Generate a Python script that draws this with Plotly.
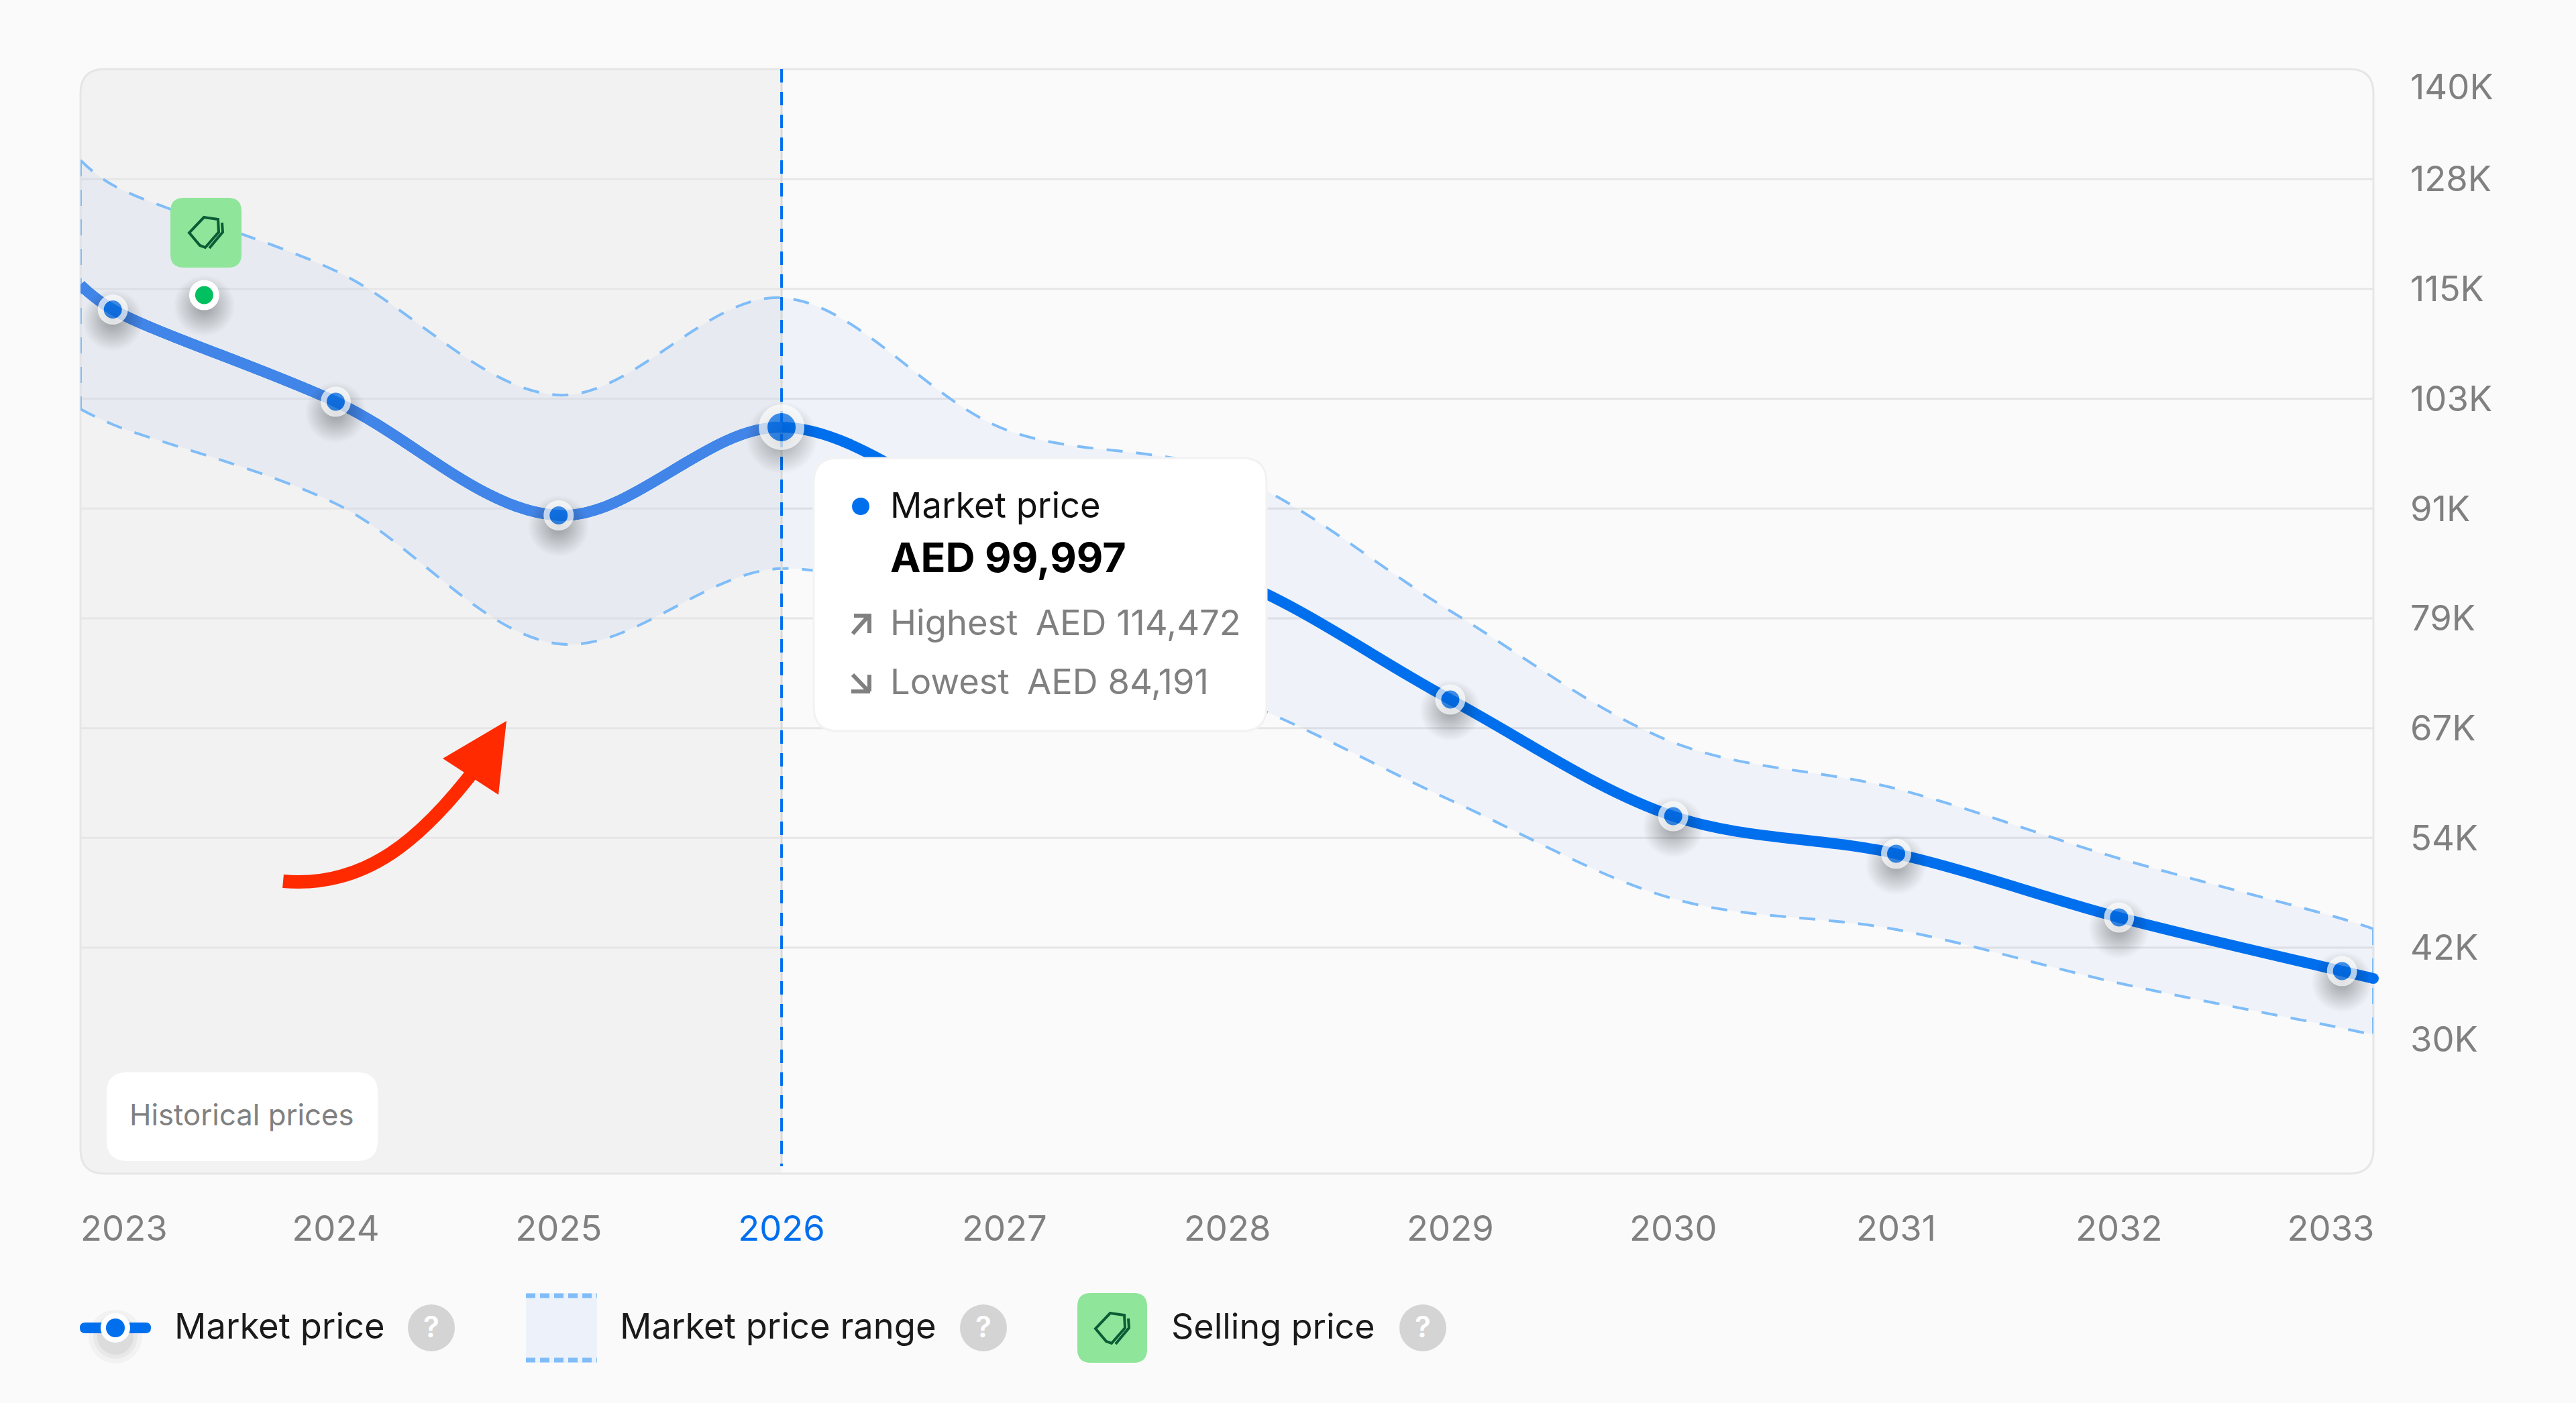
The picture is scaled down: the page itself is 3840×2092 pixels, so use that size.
import plotly.graph_objects as go

# ---------- data ----------
YEARS = [2023, 2024, 2025, 2026, 2027, 2028, 2029, 2030, 2031, 2032, 2033]
MARKET_AT_YEARS = [113160, 102847, 90135, 99997, 89272, 83272, 69547, 56497, 52297, 45172, 39172]
EDGE_LEFT = 2022.855
EDGE_RIGHT = 2033.141
MARKET_EDGES = [115897, 38347]
HIGH_AT_YEARS = [127072, 117472, 103597, 114472, 99772, 94897, 79447, 64747, 59572, 51772, 45022]
HIGH_EDGES = [129847, 43897]
LOW_AT_YEARS = [100297, 91447, 75772, 84191, 77047, 69922, 58297, 47272, 43822, 37822, 32797]
LOW_EDGES = [102022, 32047]
SELL_X = [2023.41]
SELL_Y = [114772]
GRID_VALUES = [127750, 115470, 103190, 90910, 78630, 66350, 54070, 41790]
Y_LABEL_VALUES = [138022] + GRID_VALUES + [31522]
Y_LABELS = ["140K", "128K", "115K", "103K", "91K", "79K", "67K", "54K", "42K", "30K"]
X_LABEL_POS = [2023.05, 2024, 2025, 2026, 2027, 2028, 2029, 2030, 2031, 2032, 2032.95]
Y_RANGE = [16522, 140047]
X_RANGE = [EDGE_LEFT, EDGE_RIGHT]
LINE_X = [EDGE_LEFT] + YEARS + [EDGE_RIGHT]
MARKET_LINE = [MARKET_EDGES[0]] + MARKET_AT_YEARS + [MARKET_EDGES[1]]
HIGH_LINE = [HIGH_EDGES[0]] + HIGH_AT_YEARS + [HIGH_EDGES[1]]
LOW_LINE = [LOW_EDGES[0]] + LOW_AT_YEARS + [LOW_EDGES[1]]

# ---------- style ----------
BLUE = "#006FEE"
BLUE_HIST = "#4285E8"
DASH_BLUE = "#80BDF8"
GREY = "#808080"
GREEN = "#8FE59A"
FONT = "Inter"
L, R, T, B = 120, 3538, 103, 1750
W, H = 3840, 2092
CUT = 1165


def fx(p):
    return (p - L) / (R - L)


def fy(p):
    return 1 - (p - T) / (B - T)


def pt(x, y):
    return f"{fx(x):.5f},{fy(y):.5f}"


def rrect(x0, y0, x1, y1, r, left=True, right=True):
    rl = r if left else 0
    rr = r if right else 0
    return (f"M {pt(x0 + rl, y0)} L {pt(x1 - rr, y0)} Q {pt(x1, y0)} {pt(x1, y0 + rr)} "
            f"L {pt(x1, y1 - rr)} Q {pt(x1, y1)} {pt(x1 - rr, y1)} "
            f"L {pt(x0 + rl, y1)} Q {pt(x0, y1)} {pt(x0, y1 - rl)} "
            f"L {pt(x0, y0 + rl)} Q {pt(x0, y0)} {pt(x0 + rl, y0)} Z")


shapes = []


def path(d, fill=None, line=None, width=0, layer="above", dash=None):
    s = dict(type="path", xref="paper", yref="paper", path=d, layer=layer,
             line=dict(width=width, color=line or "rgba(0,0,0,0)"))
    if dash:
        s["line"]["dash"] = dash
    if fill:
        s["fillcolor"] = fill
    shapes.append(s)


def circle(cx, cy, r, fill, layer="above"):
    shapes.append(dict(type="circle", xref="paper", yref="paper", layer=layer,
                       x0=fx(cx - r), x1=fx(cx + r), y0=fy(cy + r), y1=fy(cy - r),
                       fillcolor=fill, line=dict(width=0)))


annos = []


def text(x, y, s, size=52, color="#1A1A1A", anchor="left", weight=400):
    annos.append(dict(xref="paper", yref="paper", x=fx(x), y=fy(y), text=s, showarrow=False,
                      xanchor=anchor, yanchor="middle", xshift=0,
                      font=dict(family=FONT, size=size, color=color, weight=weight)))


def tag_icon(cx, cy):
    a = [(-3, -22), (18, -19), (19, 0), (-1, 23), (-9, 20), (-25, 1)]
    b = [(24, -14), (25, 0), (5, 24)]
    d = "M " + " L ".join(pt(cx + u, cy + v) for u, v in a) + " Z"
    path(d, line="#0D5C36", width=4)
    d = "M " + " L ".join(pt(cx + u, cy + v) for u, v in b)
    path(d, line="#0D5C36", width=4)


# panel: history shading, border, grid
path(rrect(L, T, CUT, B, 36, right=False), fill="#F2F2F2", layer="below")
path(rrect(L, T, R, B, 36), line="#E6E6E6", width=3, layer="below")
for g in GRID_VALUES:
    shapes.append(dict(type="line", xref="paper", yref="y", x0=0, x1=1, y0=g, y1=g, layer="below",
                       line=dict(color="#E6E6E6", width=3)))

# badge above selling point
path(rrect(254, 295, 360, 399, 20), fill=GREEN)
tag_icon(307, 346)

# red arrow
path(f"M {pt(422, 1314)} C {pt(545, 1325)} {pt(630, 1250)} {pt(712, 1142)}", line="#FF2A00", width=20)
path(f"M {pt(755, 1075)} L {pt(660, 1131)} L {pt(743, 1185)} Z", fill="#FF2A00")

# historical prices chip
path(rrect(159, 1599, 563, 1731, 30), fill="#FFFFFF")
text(191, 1662, "Historical prices", size=43.7, color=GREY)

# tooltip
path(rrect(1213, 683, 1888, 1090, 36), fill="#FFFFFF", line="#F2F2F2", width=3)
circle(1283, 755, 13, BLUE)
text(1325, 753, "Market price", size=52.5, color="#111111")
text(1325, 831, "AED 99,997", size=61, color="#000000", weight=700)
text(1325, 928, "Highest\u2002AED 114,472", size=52.5, color=GREY)
text(1325, 1016, "Lowest\u2002AED 84,191", size=52.5, color=GREY)
path(f"M {pt(1271, 945)} L {pt(1295, 918)} M {pt(1273, 918)} L {pt(1296, 918)} L {pt(1296, 944)}",
     line=GREY, width=6)
path(f"M {pt(1271, 1006)} L {pt(1295, 1031)} M {pt(1269, 1031)} L {pt(1297, 1031)} M {pt(1296, 1031)} L {pt(1296, 1006)}",
     line=GREY, width=6)

# legend
for rad, a in [(40, 0.03), (33, 0.04), (27, 0.05)]:
    circle(172, 1993, rad, f"rgba(0,0,0,{a})")
path(rrect(119, 1972, 225, 1988, 8), fill=BLUE)
circle(172, 1980, 22, "#FFFFFF")
circle(172, 1980, 14, BLUE)
text(258, 1977, "Market price", size=52.5)
circle(643, 1980, 35, "#D4D4D4")
text(643, 1978, "?", size=44, color="#FFFFFF", anchor="center", weight=600)

path(rrect(784, 1928, 890, 2032, 0), fill="#EDF2FA")
for yy in (1932, 2028):
    path(f"M {pt(784, yy)} L {pt(890, yy)}", line=DASH_BLUE, width=7, dash="14px,7px")
text(922, 1977, "Market price range", size=52.5)
circle(1466, 1980, 35, "#D4D4D4")
text(1466, 1978, "?", size=44, color="#FFFFFF", anchor="center", weight=600)

path(rrect(1606, 1928, 1710, 2032, 20), fill=GREEN)
tag_icon(1658, 1980)
text(1744, 1977, "Selling price", size=52)
circle(2121, 1980, 35, "#D4D4D4")
text(2121, 1978, "?", size=44, color="#FFFFFF", anchor="center", weight=600)

# ---------- traces ----------
fig = go.Figure()
dashed = dict(color=DASH_BLUE, width=4, dash="24px,20px", shape="spline", smoothing=1)
fig.add_trace(go.Scatter(x=LINE_X, y=LOW_LINE, mode="lines", cliponaxis=False, line=dashed))
fig.add_trace(go.Scatter(x=LINE_X, y=HIGH_LINE, mode="lines", fill="tonexty", cliponaxis=False,
                         fillcolor="rgba(0,96,230,0.045)", line=dashed))
# closing edges of the band
for xe, hi, lo in ((EDGE_LEFT, HIGH_EDGES[0], LOW_EDGES[0]), (EDGE_RIGHT, HIGH_EDGES[1], LOW_EDGES[1])):
    fig.add_trace(go.Scatter(x=[xe, xe], y=[hi, lo], mode="lines", cliponaxis=False,
                             line=dict(color=DASH_BLUE, width=4, dash="24px,20px")))
# cursor line
fig.add_trace(go.Scatter(x=[2026, 2026], y=[Y_RANGE[1], 17347], mode="lines",
                         line=dict(color="#D9D9D9", width=3)))
fig.add_trace(go.Scatter(x=[2026, 2026], y=[Y_RANGE[1], 17347], mode="lines",
                         line=dict(color=BLUE, width=4, dash="20px,14px")))
# market line: full curve, with the same curve drawn lighter on a sub-plot that ends at 2026
fig.add_trace(go.Scatter(x=LINE_X, y=MARKET_LINE, mode="lines", cliponaxis=False,
                         line=dict(color=BLUE, width=16, shape="spline", smoothing=1)))
fig.add_trace(go.Scatter(x=LINE_X, y=MARKET_LINE, mode="lines", xaxis="x2", yaxis="y",
                         line=dict(color=BLUE_HIST, width=16, shape="spline", smoothing=1)))
# soft shadows beneath markers
shadow = dict(color="rgba(0,0,0,0)", gradient=dict(type="radial", color="rgba(0,0,0,0.5)"), line=dict(width=0))
sizes = [108 if y == 2026 else 92 for y in YEARS]
fig.add_trace(go.Scatter(x=YEARS + SELL_X, y=[v - 1200 for v in MARKET_AT_YEARS + SELL_Y], mode="markers",
                         xaxis="x3", yaxis="y", cliponaxis=False,
                         marker=dict(size=sizes + [92], **shadow)))
# markers
fig.add_trace(go.Scatter(x=[EDGE_RIGHT], y=[MARKET_EDGES[1]], mode="markers", xaxis="x3", yaxis="y", cliponaxis=False,
                         marker=dict(size=16, color=BLUE, line=dict(width=0))))
fig.add_trace(go.Scatter(x=YEARS, y=MARKET_AT_YEARS, mode="markers", xaxis="x3", yaxis="y", cliponaxis=False,
                         marker=dict(size=[55 if y == 2026 else 36 for y in YEARS],
                                     color=BLUE,
                                     line=dict(color="#FFFFFF", width=[13 if y == 2026 else 9 for y in YEARS]))))
fig.add_trace(go.Scatter(x=SELL_X, y=SELL_Y, mode="markers", xaxis="x3", yaxis="y", cliponaxis=False,
                         marker=dict(size=36, color="#00C060", line=dict(color="#FFFFFF", width=9))))

tick_text = [f'<span style="color:{BLUE}">{y}</span>' if y == 2026 else str(y) for y in YEARS]

fig.update_layout(
    width=W, height=H, autosize=False,
    margin=dict(l=L, r=W - R, t=T, b=H - B, pad=0),
    paper_bgcolor="#FAFAFA", plot_bgcolor="rgba(0,0,0,0)",
    showlegend=False, hovermode=False,
    font=dict(family=FONT, size=52.5, color=GREY),
    shapes=shapes, annotations=annos,
    xaxis=dict(range=X_RANGE, tickmode="array", tickvals=X_LABEL_POS, ticktext=tick_text,
               showgrid=False, zeroline=False, showline=False, ticks="",
               ticklabelstandoff=46, tickfont=dict(family=FONT, size=52.5, color=GREY)),
    xaxis2=dict(range=[EDGE_LEFT, 2026], domain=[0, fx(CUT)], anchor="y", visible=False),
    xaxis3=dict(range=X_RANGE, domain=[0, 1], anchor="y", visible=False),
    yaxis=dict(range=Y_RANGE, side="right", tickmode="array", tickvals=Y_LABEL_VALUES, ticktext=Y_LABELS,
               showgrid=False, zeroline=False, showline=False, ticks="",
               ticklabelstandoff=54, tickfont=dict(family=FONT, size=52.5, color=GREY)),
)

fig.write_html("out.html", config={"displayModeBar": False},
               post_script="document.body.style.margin='0';document.body.style.background='#FAFAFA';document.documentElement.style.overflow='hidden';")
